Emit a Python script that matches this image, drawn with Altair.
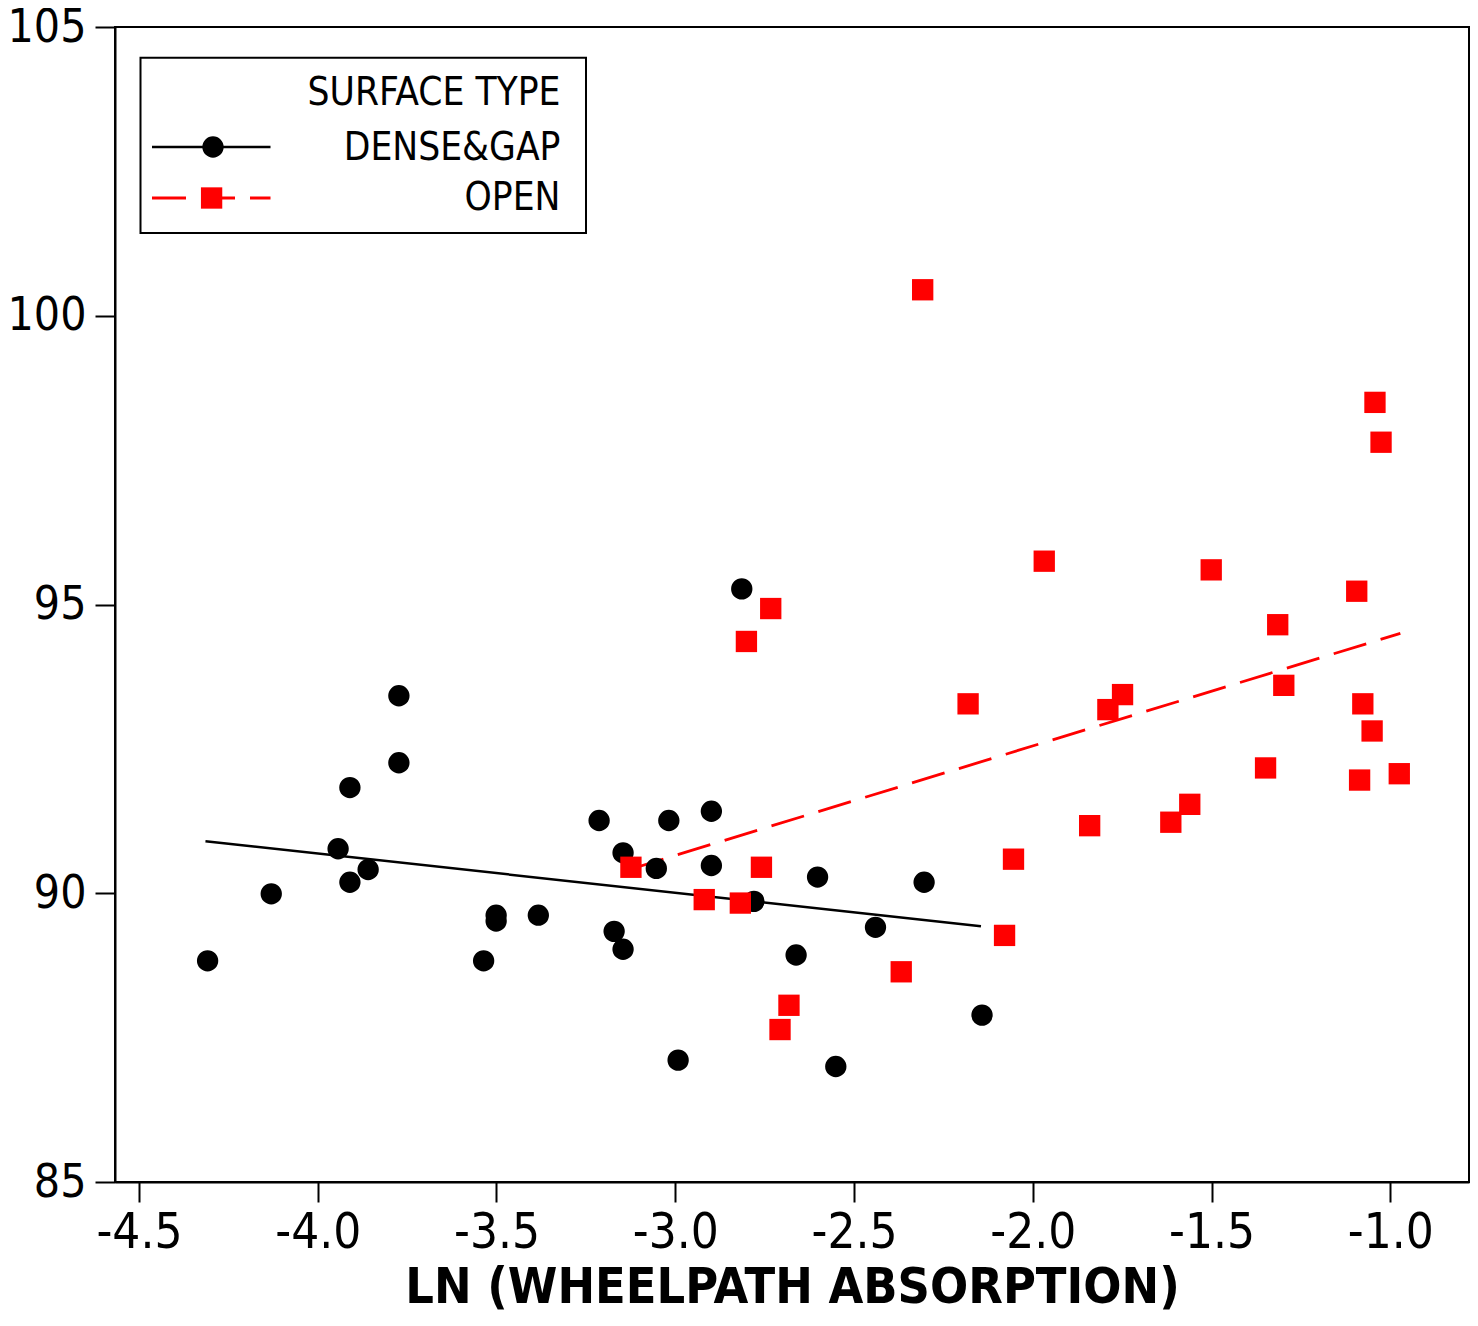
import altair as alt
import pandas as pd

# ---- data ----
surface_types = ["DENSE&GAP", "OPEN"]

dense_x = [-4.308, -4.130, -3.943, -3.910, -3.910, -3.859, -3.773, -3.773, -3.536, -3.501,
           -3.501, -3.383, -3.213, -3.146, -3.171, -3.146, -3.053, -3.018, -2.899, -2.899,
           -2.814, -2.780, -2.992, -2.662, -2.602, -2.551, -2.440, -2.304, -2.142]
dense_y = [88.83, 89.99, 90.77, 91.83, 90.19, 90.41, 93.42, 92.26, 88.83, 89.62,
           89.52, 89.62, 91.26, 90.70, 89.34, 89.03, 90.43, 91.26, 91.42, 90.48,
           95.27, 89.86, 87.11, 88.93, 90.28, 87.00, 89.41, 90.19, 87.89]

open_x = [-3.124, -2.919, -2.818, -2.801, -2.759, -2.733, -2.682, -2.707, -2.308, -1.968,
          -2.368, -2.181, -2.079, -2.054, -1.841, -1.790, -1.749, -1.043, -1.026, -1.501,
          -1.094, -1.315, -1.298, -1.077, -1.051, -1.349, -1.086, -0.975, -1.561, -1.614]
open_y = [90.45, 89.89, 89.83, 94.36, 90.45, 94.93, 88.06, 87.64, 100.45, 95.75,
          88.64, 93.28, 89.27, 90.59, 91.17, 93.18, 93.44, 98.50, 97.81, 95.60,
          95.23, 94.65, 93.60, 93.28, 92.81, 92.17, 91.96, 92.07, 91.54, 91.23]

fit_dense_x = [-4.314, -2.145]
fit_dense_y = [90.90, 89.43]
fit_open_x = [-3.124, -0.972]
fit_open_y = [90.42, 94.50]

x_ticks = [-4.5, -4.0, -3.5, -3.0, -2.5, -2.0, -1.5, -1.0]
y_ticks = [85, 90, 95, 100, 105]
x_domain = [-4.567, -0.78]
y_domain = [85, 105]

legend_title = "SURFACE TYPE"
x_title = "LN (WHEELPATH ABSORPTION)"

FONT = "DejaVu Sans Condensed, DejaVu Sans"

# ---- tables ----
pts = pd.DataFrame({
    "x": dense_x + open_x,
    "y": dense_y + open_y,
    "type": [surface_types[0]] * len(dense_x) + [surface_types[1]] * len(open_x),
})
fit_dense = pd.DataFrame({"x": fit_dense_x, "y": fit_dense_y})
fit_open = pd.DataFrame({"x": fit_open_x, "y": fit_open_y})
one = pd.DataFrame({"k": [0]})

xscale = alt.Scale(domain=x_domain, nice=False, zero=False)
yscale = alt.Scale(domain=y_domain, nice=False, zero=False)

xaxis = alt.Axis(
    values=x_ticks, title=x_title, grid=False,
    labelExpr="replace(format(datum.value, '.1f'), '\u2212', '-')",
    labelFontSize=49, labelPadding=6, labelFlush=False,
    titleFontSize=50, titleFontWeight="bold", titlePadding=5,
)
yaxis = alt.Axis(values=y_ticks, title=None, grid=False, format="d",
                 labelFontSize=46, labelPadding=9, labelFlush=False)

X = alt.X("x:Q", scale=xscale, axis=xaxis)
Y = alt.Y("y:Q", scale=yscale, axis=yaxis)

color = alt.Color("type:N", scale=alt.Scale(domain=surface_types, range=["#000000", "#ff0000"]), legend=None)
shape = alt.Shape("type:N", scale=alt.Scale(domain=surface_types, range=["circle", "square"]), legend=None)

line_dense = alt.Chart(fit_dense).mark_line(color="#000000", strokeWidth=2.5).encode(x=X, y=Y)
line_open = alt.Chart(fit_open).mark_line(color="#ff0000", strokeWidth=2.8, strokeDash=[34, 15]).encode(x=X, y=Y)

points = alt.Chart(pts).mark_point(filled=True, opacity=1, size=455, strokeWidth=0).encode(
    x=X, y=Y, color=color, shape=shape
)

# ---- hand-made legend (pixel positions inside the plot area) ----
leg_box = alt.Chart(one).mark_rect(fill="white", stroke="black", strokeWidth=2).encode(
    x=alt.value(25.5), x2=alt.value(471), y=alt.value(30.8), y2=alt.value(206)
)
leg_title = alt.Chart(one).mark_text(align="right", baseline="alphabetic", font=FONT, fontSize=38.5, color="black").encode(
    x=alt.value(445.5), y=alt.value(78.3), text=alt.value(legend_title)
)
leg_lab1 = alt.Chart(one).mark_text(align="right", baseline="alphabetic", font=FONT, fontSize=38.5, color="black").encode(
    x=alt.value(445.5), y=alt.value(133.3), text=alt.value(surface_types[0])
)
leg_lab2 = alt.Chart(one).mark_text(align="right", baseline="alphabetic", font=FONT, fontSize=38.5, color="black").encode(
    x=alt.value(445.5), y=alt.value(183.3), text=alt.value(surface_types[1])
)
leg_line1 = alt.Chart(one).mark_rule(color="#000000", strokeWidth=2.5).encode(
    x=alt.value(37), x2=alt.value(155.5), y=alt.value(120)
)
leg_line2 = alt.Chart(one).mark_rule(color="#ff0000", strokeWidth=2.8, strokeDash=[34, 15]).encode(
    x=alt.value(37), x2=alt.value(155.5), y=alt.value(171)
)
leg_sym1 = alt.Chart(one).mark_point(filled=True, opacity=1, size=455, strokeWidth=0, shape="circle", color="#000000").encode(
    x=alt.value(98), y=alt.value(120)
)
leg_sym2 = alt.Chart(one).mark_point(filled=True, opacity=1, size=455, strokeWidth=0, shape="square", color="#ff0000").encode(
    x=alt.value(96.6), y=alt.value(171)
)

chart = alt.layer(
    line_dense, line_open, points,
    leg_box, leg_line1, leg_line2, leg_sym1, leg_sym2, leg_title, leg_lab1, leg_lab2,
).properties(
    width=1354, height=1155,
    padding={"left": 107, "top": 19, "right": 1, "bottom": 132},
    autosize=alt.AutoSizeParams(type="none"),
).configure_view(
    stroke="black", strokeWidth=2
).configure_axis(
    labelFont=FONT, titleFont=FONT, labelColor="black", titleColor="black",
    domainColor="black", domainWidth=2, tickColor="black", tickWidth=2, tickSize=20,
)

chart.save("out.html", embed_options={"renderer": "svg", "actions": False})
